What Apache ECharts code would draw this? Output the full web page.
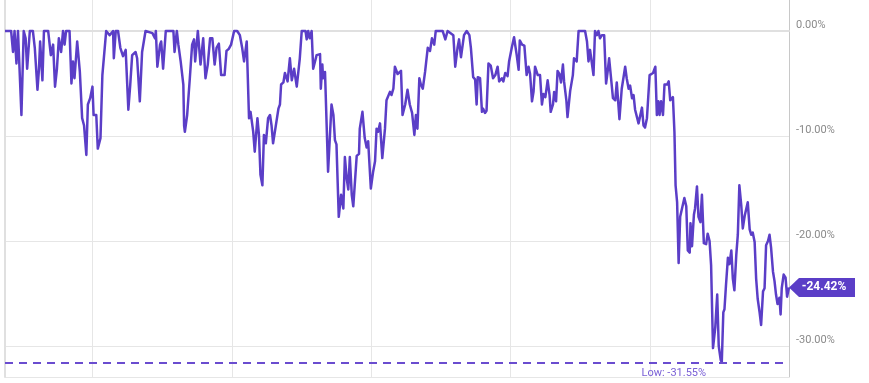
<!DOCTYPE html>
<html><head><meta charset="utf-8">
<script src="https://cdn.jsdelivr.net/npm/echarts@6/dist/echarts.min.js"></script>
<style>html,body{margin:0;padding:0;background:#fff}#c{width:869px;height:383px}</style>
</head><body><div id="c"></div>
<script>
// Start of the series (local date) and day offsets of each observation
const startDate = [2019, 4, 18];
const dayOffsets = [0,16,21,25,30,34,43,49,54,58,65,73,78,85,89,92,98,102,113,120,126,131,136,141,147,152,156,160,169,174,178,182,189,196,202,207,213,217,223,229,232,239,243,250,255,265,274,283,285,290,296,302,309,316,323,328,333,342,346,353,359,368,386,393,395,399,406,409,414,421,441,444,450,454,460,467,469,471,477,484,490,495,498,505,512,519,525,531,537,543,549,554,560,566,575,580,586,592,600,608,615,621,626,633,639,643,650,654,661,665,669,674,678,683,689,694,698,702,707,716,720,723,729,733,740,746,751,757,764,772,777,787,790,794,798,803,807,812,816,825,827,831,833,838,846,855,860,864,868,874,880,886,890,895,899,903,908,912,921,927,929,936,942,947,951,958,964,969,973,977,982,988,995,999,1008,1012,1017,1021,1028,1037,1041,1048,1054,1060,1066,1072,1076,1080,1085,1089,1094,1100,1107,1113,1118,1124,1128,1146,1153,1159,1174,1179,1185,1189,1194,1202,1209,1216,1220,1226,1231,1235,1238,1244,1249,1252,1257,1261,1266,1272,1278,1284,1290,1294,1301,1305,1310,1316,1320,1327,1333,1340,1345,1348,1354,1360,1366,1371,1375,1380,1384,1388,1395,1401,1406,1410,1415,1421,1426,1429,1435,1438,1443,1447,1452,1456,1461,1464,1470,1473,1480,1487,1490,1497,1502,1519,1524,1528,1532,1541,1545,1550,1554,1558,1563,1569,1574,1578,1582,1587,1592,1598,1602,1609,1615,1624,1628,1633,1637,1642,1646,1650,1655,1659,1663,1668,1672,1676,1681,1688,1697,1703,1707,1711,1714,1718,1723,1727,1734,1738,1742,1749,1753,1756,1760,1764,1768,1772,1779,1784,1788,1793,1795,1799,1804,1807,1812,1816,1821,1825,1830,1836,1840,1845,1849,1854,1860,1865,1869,1874,1877,1881,1884,1888,1893,1897,1902,1906,1910,1915,1919,1923,1928,1932,1937,1941,1945,1950,1954,1958,1963,1967,1971,1976,1980,1985,1989,1993,1998,2002,2006,2011,2015,2019,2023,2028,2031,2034,2039,2044,2048,2053];
// Drawdown from peak, in percent
const drawdown = [0,0,-2.0,0,-3.1,0,-8.0,0,-0.7,-3.6,0,0,-1.6,-5.6,-3.6,-1.0,-4.7,0,0,-2.3,-1.3,-5.3,-3.6,-0.7,-2.0,0,-1.3,0,0,-5.0,-2.9,-4.5,-1.0,-3.9,-8.3,-9.0,-11.8,-7.0,-6.4,-5.3,-8.0,-8.0,-11.2,-10.2,-4.2,0,-0.4,0,-2.6,0,0,-1.6,-2.4,-1.8,-7.5,-5.1,-2.3,-2.0,-2.6,-6.7,-2.0,0,-0.2,-0.7,0,-3.4,-1.3,-1.0,-3.6,0,0,-2.0,0,-1.3,-2.9,-5.1,-9.0,-9.6,-8.0,-4.5,-1.3,-0.8,-2.9,0,-3.2,-0.7,-4.5,-3.2,-0.7,-0.7,-3.2,-1.6,-1.2,-4.2,-4.2,-1.9,-1.7,-1.3,0,0,-0.4,-1.6,-2.9,-1.0,-8.3,-7.7,-9.6,-11.5,-8.3,-9.9,-13.7,-14.7,-9.9,-10.7,-8.3,-8.0,-9.0,-10.7,-10.6,-7.4,-7.0,-5.1,-4.9,-4.0,-4.8,-2.6,-4.7,-3.6,-5.3,-2.6,0,0,-0.8,0,-0.7,0,-3.6,-3.7,-2.3,-2.2,-5.5,-3.2,-4.5,-3.9,-13.4,-7.0,-8.0,-10.4,-10.8,-17.7,-15.6,-16.9,-12.0,-14.1,-15.1,-12.0,-15.6,-16.7,-11.9,-11.7,-9.3,-7.7,-10.2,-11.1,-10.5,-15.0,-13.4,-12.4,-9.3,-9.6,-8.8,-12.1,-9.3,-6.6,-5.8,-6.1,-5.5,-3.4,-4.1,-3.8,-8.0,-7.0,-5.6,-7.0,-7.8,-9.9,-8.0,-9.3,-4.5,-5.1,-5.5,-3.9,-1.6,-1.9,-0.7,-1.3,0,0,-0.8,0,-0.4,-3.4,-1.6,-0.8,-2.5,-0.4,0,-0.4,-1.6,-4.4,-4.6,-7.0,-4.4,-4.5,-7.7,-7.4,-7.8,-7.6,-3.1,-3.3,-4.5,-4.2,-3.4,-4.8,-4.5,-4.8,-4.0,-4.3,-2.9,-1.6,-0.6,-2.3,-3.7,-0.9,-1.3,-1.4,-4.2,-3.4,-4.1,-6.7,-5.8,-3.4,-4.2,-4.2,-7.0,-6.0,-6.3,-4.7,-6.1,-7.7,-7.0,-5.8,-6.7,-3.8,-4.1,-4.9,-3.2,-4.8,-6.6,-8.2,-5.7,-4.2,-2.6,-2.9,0,0,-1.0,-2.9,-1.8,-4.2,0,-0.4,0,-0.7,-0.4,-0.4,-5.0,-3.9,-2.6,-4.5,-6.4,-6.6,-4.9,-8.4,-5.5,-3.4,-4.5,-5.5,-5.2,-6.4,-6.1,-7.5,-7.4,-8.8,-8.8,-7.3,-9.0,-9.2,-8.3,-4.2,-4.0,-3.4,-8.0,-6.7,-8.0,-6.7,-8.0,-5.1,-5.1,-4.8,-6.6,-6.3,-9.6,-14.7,-16.3,-22.1,-17.7,-17.6,-15.9,-16.7,-20.9,-21.1,-18.3,-20.5,-17.5,-16.9,-14.8,-17.7,-18.2,-15.6,-20.2,-20.3,-19.3,-20.0,-22.3,-30.2,-28.2,-25.1,-30.0,-31.3,-31.55,-26.8,-26.5,-24.2,-21.6,-22.2,-20.9,-23.6,-24.7,-21.3,-19.4,-14.7,-16.6,-18.8,-17.6,-17.6,-16.3,-18.9,-19.4,-19.2,-20.1,-23.6,-25.5,-26.8,-28.0,-24.8,-24.5,-20.4,-20.0,-19.4,-20.6,-22.9,-23.8,-25.1,-26.0,-25.4,-27.0,-24.5,-23.2,-23.5,-25.3,-24.42];
const yMax = 2.95, yMin = -32.95;

const PURPLE = '#5b3ec7';
const GRID = '#e6e6e6';
const toDate = d => new Date(startDate[0], startDate[1], startDate[2] + d).getTime();
const seriesData = dayOffsets.map((d, i) => [toDate(d), drawdown[i]]);
let lowIdx = 0;
drawdown.forEach((v, i) => { if (v < drawdown[lowIdx]) lowIdx = i; });
const low = drawdown[lowIdx];
const last = seriesData[seriesData.length - 1];
const pct = v => v.toFixed(2) + '%';

const chart = echarts.init(document.getElementById('c'), null, {renderer: 'canvas'});
chart.setOption({
  animation: false,
  textStyle: {fontFamily: 'Roboto'},
  grid: {left: 5, right: 80, top: 0, bottom: 6, containLabel: false},
  xAxis: {
    type: 'time', min: 'dataMin', max: 'dataMax',
    minInterval: 365 * 864e5,
    axisLabel: {show: false}, axisTick: {show: false},
    axisLine: {show: true, lineStyle: {color: '#e0e0e0', width: 2}},
    splitLine: {show: true, lineStyle: {color: GRID, width: 1}}
  },
  yAxis: [{
    type: 'value', position: 'right', min: yMin, max: yMax, splitNumber: 4,
    axisLine: {show: true, lineStyle: {color: '#c8c8c8', width: 1}},
    axisTick: {show: false},
    axisLabel: {formatter: v => pct(v), color: '#8a8a8a', fontSize: 11, margin: 7,
      verticalAlign: 'bottom', showMinLabel: false, showMaxLabel: false},
    splitLine: {show: true, lineStyle: {color: [GRID, GRID, GRID, GRID, GRID, 'rgba(0,0,0,0)'], width: 1}}
  }, {
    type: 'value', position: 'left', min: yMin, max: yMax,
    axisLine: {show: true, lineStyle: {color: '#e0e0e0', width: 2}},
    axisTick: {show: false}, axisLabel: {show: false}, splitLine: {show: false}
  }],
  series: [{
    type: 'line', data: seriesData, yAxisIndex: 0, showSymbol: false, z: 3,
    lineStyle: {color: PURPLE, width: 2.5, join: 'round'}, itemStyle: {color: PURPLE},
    markLine: {
      silent: true, symbol: ['none', 'none'],
      label: {show: false},
      lineStyle: {color: '#6a4ccf', type: [8, 6], width: 2},
      data: [{yAxis: low}]
    },
    markPoint: {
      silent: true,
      data: [
        {coord: seriesData[lowIdx], symbol: 'circle', symbolSize: 1,
          itemStyle: {color: 'rgba(0,0,0,0)'},
          label: {show: true, formatter: 'Low: ' + pct(low), color: '#7a60d6', fontSize: 11,
            position: 'inside', offset: [-48, 11]}},
        {coord: last, symbol: 'path://M0,9.5L10,0L66,0L66,19L10,19Z', symbolSize: [66, 19],
          symbolKeepAspect: false, symbolOffset: [33, 0],
          itemStyle: {color: PURPLE},
          label: {show: true, formatter: pct(last[1]), color: '#fff', fontWeight: 'bold', fontSize: 12,
            position: 'inside', offset: [2, 0]}}
      ]
    }
  }]
});
</script></body></html>
